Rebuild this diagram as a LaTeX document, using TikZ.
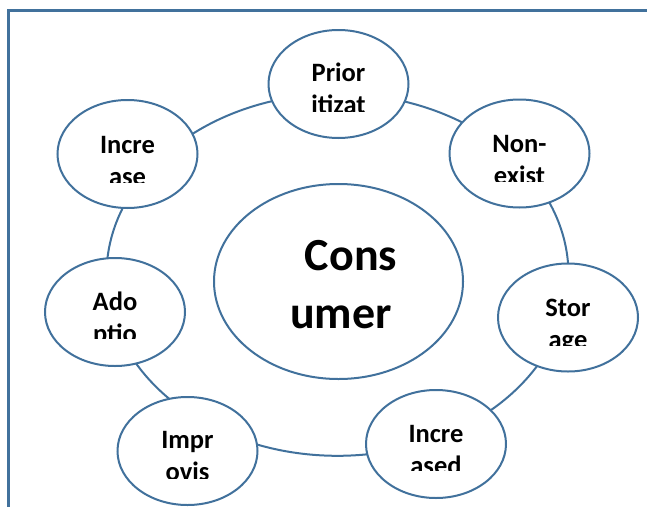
\documentclass[tikz,border=0pt]{standalone}
\usepackage{fontspec}
\setmainfont{Carlito}
\usetikzlibrary{shapes.geometric}
\definecolor{ringblue}{HTML}{41719C}
\begin{document}
\begin{tikzpicture}[x=1pt,y=-1pt,
  bubble/.style={ellipse, draw=ringblue, line width=2pt, fill=white,
    minimum width=140pt, minimum height=108pt, inner sep=0pt},
  lbl/.style={anchor=base, inner sep=0pt, font=\fontsize{26.5}{31}\selectfont\bfseries},
  biglbl/.style={anchor=base, inner sep=0pt, font=\fontsize{46}{56}\selectfont\bfseries}]
\useasboundingbox (0,0) rectangle (647,506);
% frame
\coordinate (fbl) at (8.5,507);
\coordinate (ftl) at (8.5,10.5);
\coordinate (ftr) at (648,10.5);
\draw[ringblue, line width=2.5pt] (fbl) -- (ftl) -- (ftr);
% ring
\node[ellipse, draw=ringblue, line width=2pt, minimum width=462pt,
  minimum height=362pt, inner sep=0pt] (ring) at (337.5,274.8) {};
% centre
\node[bubble, minimum width=249pt, minimum height=195pt] (cons) at (338.5,281.5) {};
\node[biglbl] (consA) at (351,270) {Cons};
\node[biglbl] (consB) at (341,328) {umer};
% Prior itizat
\node[bubble] (prio) at (338.5,84) {};
\begin{scope}
\clip (268,20) rectangle (409,111);
\node[lbl] (prioA) at (338.5,81) {Prior};
\node[lbl] (prioB) at (338.5,113.5) {itizat};
\end{scope}
% Non-exist
\node[bubble] (non) at (519.5,153.5) {};
\begin{scope}
\clip (450,90) rectangle (589,181.5);
\node[lbl] (nonA) at (519.5,152) {Non-};
\node[lbl] (nonB) at (519.5,184.5) {exist};
\end{scope}
% Storage
\node[bubble] (stor) at (568,317.5) {};
\begin{scope}
\clip (498,255) rectangle (638,345.5);
\node[lbl] (storA) at (568,316) {Stor};
\node[lbl] (storB) at (568,348.5) {age};
\end{scope}
% Increased
\node[bubble] (incd) at (436,444) {};
\begin{scope}
\clip (366,380) rectangle (506,470.5);
\node[lbl] (incdA) at (436,442) {Incre};
\node[lbl] (incdB) at (436,474.5) {ased};
\end{scope}
% Improvis
\node[bubble] (impr) at (187.5,451) {};
\begin{scope}
\clip (118,390) rectangle (257,478);
\node[lbl] (imprA) at (187.5,448) {Impr};
\node[lbl] (imprB) at (187.5,480.5) {ovis};
\end{scope}
% Adoptio
\node[bubble] (ado) at (115,312) {};
\begin{scope}
\clip (45,250) rectangle (185,338.5);
\node[lbl] (adoA) at (115,310) {Ado};
\node[lbl] (adoB) at (115,342.5) {ptio};
\end{scope}
% Increase
\node[bubble] (inc) at (127.5,154) {};
\begin{scope}
\clip (57,90) rectangle (198,182);
\node[lbl] (incA) at (127.5,153) {Incre};
\node[lbl] (incB) at (127.5,185.5) {ase};
\end{scope}
\end{tikzpicture}
\end{document}
